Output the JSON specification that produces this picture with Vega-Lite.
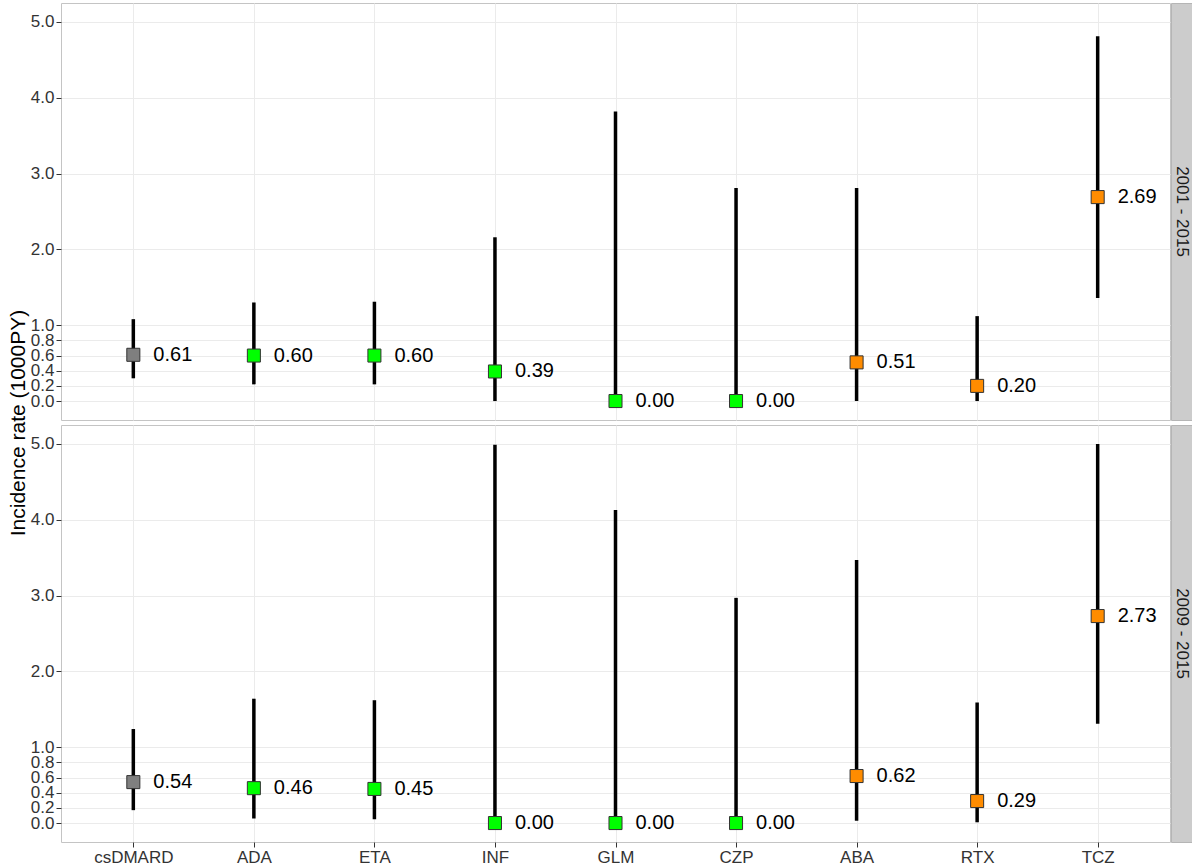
{
  "$schema": "https://vega.github.io/schema/vega-lite/v6.json",
  "padding": {"left": 6, "top": 2, "right": 0, "bottom": 0},
  "background": "white",
  "datasets": {
    "ir": [
      {"period": "2001 - 2015", "drug": "csDMARD", "est": 0.61, "lo": 0.30, "hi": 1.08, "cls": "csDMARD"},
      {"period": "2001 - 2015", "drug": "ADA", "est": 0.60, "lo": 0.22, "hi": 1.30, "cls": "TNFi"},
      {"period": "2001 - 2015", "drug": "ETA", "est": 0.60, "lo": 0.22, "hi": 1.31, "cls": "TNFi"},
      {"period": "2001 - 2015", "drug": "INF", "est": 0.39, "lo": 0.00, "hi": 2.16, "cls": "TNFi"},
      {"period": "2001 - 2015", "drug": "GLM", "est": 0.00, "lo": 0.00, "hi": 3.82, "cls": "TNFi"},
      {"period": "2001 - 2015", "drug": "CZP", "est": 0.00, "lo": 0.00, "hi": 2.81, "cls": "TNFi"},
      {"period": "2001 - 2015", "drug": "ABA", "est": 0.51, "lo": 0.00, "hi": 2.81, "cls": "nonTNF"},
      {"period": "2001 - 2015", "drug": "RTX", "est": 0.20, "lo": 0.00, "hi": 1.12, "cls": "nonTNF"},
      {"period": "2001 - 2015", "drug": "TCZ", "est": 2.69, "lo": 1.36, "hi": 4.81, "cls": "nonTNF"},
      {"period": "2009 - 2015", "drug": "csDMARD", "est": 0.54, "lo": 0.17, "hi": 1.24, "cls": "csDMARD"},
      {"period": "2009 - 2015", "drug": "ADA", "est": 0.46, "lo": 0.06, "hi": 1.64, "cls": "TNFi"},
      {"period": "2009 - 2015", "drug": "ETA", "est": 0.45, "lo": 0.05, "hi": 1.62, "cls": "TNFi"},
      {"period": "2009 - 2015", "drug": "INF", "est": 0.00, "lo": 0.00, "hi": 4.99, "cls": "TNFi"},
      {"period": "2009 - 2015", "drug": "GLM", "est": 0.00, "lo": 0.00, "hi": 4.13, "cls": "TNFi"},
      {"period": "2009 - 2015", "drug": "CZP", "est": 0.00, "lo": 0.00, "hi": 2.97, "cls": "TNFi"},
      {"period": "2009 - 2015", "drug": "ABA", "est": 0.62, "lo": 0.03, "hi": 3.47, "cls": "nonTNF"},
      {"period": "2009 - 2015", "drug": "RTX", "est": 0.29, "lo": 0.01, "hi": 1.59, "cls": "nonTNF"},
      {"period": "2009 - 2015", "drug": "TCZ", "est": 2.73, "lo": 1.31, "hi": 5.00, "cls": "nonTNF"}
    ],
    "strips": [
      {"label": "2001 - 2015", "row": "top"},
      {"label": "2009 - 2015", "row": "bottom"}
    ]
  },
  "config": {
    "font": "Liberation Sans",
    "view": {"stroke": "#C4C4C4", "strokeWidth": 1},
    "axis": {
      "labelFont": "Liberation Sans",
      "labelFontSize": 17,
      "labelColor": "#333333",
      "tickColor": "#333333",
      "gridColor": "#EBEBEB",
      "domain": false,
      "labelOverlap": false,
      "titleFont": "Liberation Sans"
    }
  },
  "columns": 2,
  "align": "each",
  "bounds": "flush",
  "spacing": {"row": 5, "column": 1},
  "concat": [
    {
      "width": 1109,
      "height": 417,
      "data": {"name": "ir"},
      "transform": [{"filter": "datum.period === '2001 - 2015'"}],
      "encoding": {
        "x": {
          "field": "drug", "type": "nominal",
          "sort": ["csDMARD", "ADA", "ETA", "INF", "GLM", "CZP", "ABA", "RTX", "TCZ"],
          "scale": {"type": "point", "padding": 0.6},
          "axis": {"title": null, "labels": false, "ticks": false, "domain": false, "grid": true, "gridColor": "#EBEBEB"}
        }
      },
      "layer": [
        {
          "mark": {"type": "rule", "strokeWidth": 3.5, "color": "#000000"},
          "encoding": {
            "y": {
              "field": "lo", "type": "quantitative",
              "scale": {"domain": [-0.25, 5.25], "nice": false, "zero": false},
              "axis": {
                "title": "Incidence rate (1000PY)",
                "titleY": 419.5,
                "titleFontSize": 21,
                "titleFontWeight": "normal",
                "titleColor": "#000000",
                "titlePadding": 2,
                "values": [0, 0.2, 0.4, 0.6, 0.8, 1, 2, 3, 4, 5],
                "format": ".1f",
                "labelOverlap": false,
                "tickSize": 5,
                "labelPadding": 2
              }
            },
            "y2": {"field": "hi"}
          }
        },
        {
          "mark": {"type": "point", "shape": "square", "filled": true, "size": 170, "stroke": "#333333", "strokeWidth": 1, "opacity": 1},
          "encoding": {
            "y": {
              "field": "est", "type": "quantitative",
              "scale": {"domain": [-0.25, 5.25], "nice": false, "zero": false},
              "axis": {
                "title": "Incidence rate (1000PY)",
                "titleY": 419.5,
                "titleFontSize": 21,
                "titleFontWeight": "normal",
                "titleColor": "#000000",
                "titlePadding": 2,
                "values": [0, 0.2, 0.4, 0.6, 0.8, 1, 2, 3, 4, 5],
                "format": ".1f",
                "labelOverlap": false,
                "tickSize": 5,
                "labelPadding": 2
              }
            },
            "fill": {
              "field": "cls", "type": "nominal",
              "scale": {"domain": ["csDMARD", "TNFi", "nonTNF"], "range": ["#7F7F7F", "#00FF00", "#FF8C00"]},
              "legend": null
            }
          }
        },
        {
          "mark": {"type": "text", "align": "left", "baseline": "middle", "dx": 20, "fontSize": 20, "color": "#000000", "font": "Liberation Sans"},
          "encoding": {
            "y": {"field": "est", "type": "quantitative", "scale": {"domain": [-0.25, 5.25], "nice": false, "zero": false}},
            "text": {"field": "est", "type": "quantitative", "format": ".2f"}
          }
        }
      ]
    },
    {
      "width": 22,
      "height": 417,
      "view": {"fill": "#CCCCCC", "stroke": "#B5B5B5"},
      "data": {"name": "strips"},
      "transform": [{"filter": "datum.row === 'top'"}],
      "mark": {"type": "text", "angle": 90, "fontSize": 17, "color": "#1A1A1A", "align": "center", "baseline": "middle", "font": "Liberation Sans"},
      "encoding": {"text": {"field": "label", "type": "nominal"}}
    },
    {
      "width": 1109,
      "height": 417,
      "data": {"name": "ir"},
      "transform": [{"filter": "datum.period === '2009 - 2015'"}],
      "encoding": {
        "x": {
          "field": "drug", "type": "nominal",
          "sort": ["csDMARD", "ADA", "ETA", "INF", "GLM", "CZP", "ABA", "RTX", "TCZ"],
          "scale": {"type": "point", "padding": 0.6},
          "axis": {"title": null, "labelAngle": 0, "labelFontSize": 17, "labelColor": "#333333", "tickSize": 5, "labelPadding": 2, "domain": false, "grid": true, "gridColor": "#EBEBEB"}
        }
      },
      "layer": [
        {
          "mark": {"type": "rule", "strokeWidth": 3.5, "color": "#000000"},
          "encoding": {
            "y": {
              "field": "lo", "type": "quantitative",
              "scale": {"domain": [-0.25, 5.25], "nice": false, "zero": false},
              "axis": {
                "title": null,
                "values": [0, 0.2, 0.4, 0.6, 0.8, 1, 2, 3, 4, 5],
                "format": ".1f",
                "labelOverlap": false,
                "tickSize": 5,
                "labelPadding": 2
              }
            },
            "y2": {"field": "hi"}
          }
        },
        {
          "mark": {"type": "point", "shape": "square", "filled": true, "size": 170, "stroke": "#333333", "strokeWidth": 1, "opacity": 1},
          "encoding": {
            "y": {
              "field": "est", "type": "quantitative",
              "scale": {"domain": [-0.25, 5.25], "nice": false, "zero": false},
              "axis": {
                "title": null,
                "values": [0, 0.2, 0.4, 0.6, 0.8, 1, 2, 3, 4, 5],
                "format": ".1f",
                "labelOverlap": false,
                "tickSize": 5,
                "labelPadding": 2
              }
            },
            "fill": {
              "field": "cls", "type": "nominal",
              "scale": {"domain": ["csDMARD", "TNFi", "nonTNF"], "range": ["#7F7F7F", "#00FF00", "#FF8C00"]},
              "legend": null
            }
          }
        },
        {
          "mark": {"type": "text", "align": "left", "baseline": "middle", "dx": 20, "fontSize": 20, "color": "#000000", "font": "Liberation Sans"},
          "encoding": {
            "y": {"field": "est", "type": "quantitative", "scale": {"domain": [-0.25, 5.25], "nice": false, "zero": false}},
            "text": {"field": "est", "type": "quantitative", "format": ".2f"}
          }
        }
      ]
    },
    {
      "width": 22,
      "height": 417,
      "view": {"fill": "#CCCCCC", "stroke": "#B5B5B5"},
      "data": {"name": "strips"},
      "transform": [{"filter": "datum.row === 'bottom'"}],
      "mark": {"type": "text", "angle": 90, "fontSize": 17, "color": "#1A1A1A", "align": "center", "baseline": "middle", "font": "Liberation Sans"},
      "encoding": {"text": {"field": "label", "type": "nominal"}}
    }
  ]
}
